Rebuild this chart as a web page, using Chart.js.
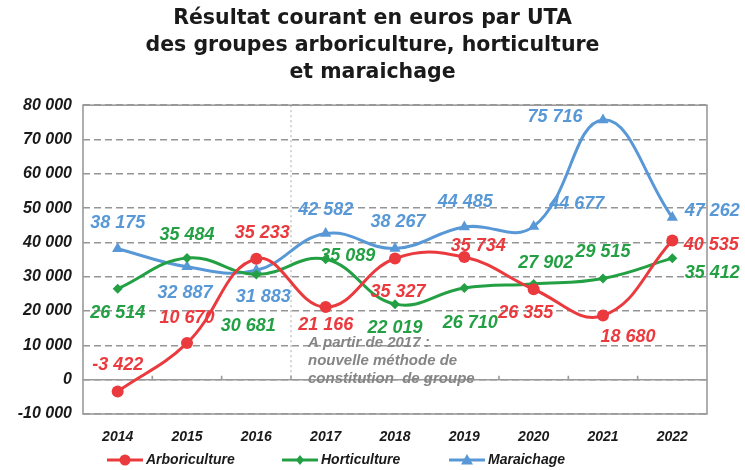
<!DOCTYPE html>
<html>
<head>
<meta charset="utf-8">
<script src="https://cdn.jsdelivr.net/npm/chart.js@4.4.1/dist/chart.umd.min.js"></script>
<style>
  html, body { margin: 0; padding: 0; background: #fff; }
  #wrap { width: 745px; height: 470px; }
</style>
</head>
<body>
<div id="wrap"><canvas id="chart"></canvas></div>
<script>
// categories
const years = ['2014', '2015', '2016', '2017', '2018', '2019', '2020', '2021', '2022'];

// series values (euros par UTA)
const arboriculture = [-3422, 10670, 35233, 21166, 35327, 35734, 26355, 18680, 40535];
const horticulture  = [26514, 35484, 30681, 35089, 22019, 26710, 27902, 29515, 35412];
const maraichage    = [38175, 32887, 31883, 42582, 38267, 44485, 44677, 75716, 47262];

// y axis range
const yMin = -10000;
const yMax = 80000;
const yStep = 10000;

const titleLines = [
    'Résultat courant en euros par UTA',
    'des groupes arboriculture, horticulture',
    'et maraichage'
];
const noteLines = ['A partir de 2017 :', 'nouvelle méthode de', 'constitution  de groupe'];

// where each value label sits relative to its point (dx, dy in px)
const labelOffsets = [
    [[0, -26], [0, -25], [6, -26], [0, 18], [3, 34], [14, -11], [-8, 24], [25, 21], [39, 4]],
    [[0, 24], [0, -23], [-8, 52], [22, -3], [0, 24], [6, 35], [12, -21], [0, -26], [40, 15]],
    [[0, -26], [-2, 26], [7, 27], [0, -24], [3, -26], [1, -25], [43, -22], [-48, -3], [40, -6]]
];

const RED = 'rgb(234, 58, 62)';
const GREEN = 'rgb(36, 160, 68)';
const BLUE = 'rgb(88, 152, 214)';
const FONT = '"Liberation Sans", Arial, sans-serif';
const WIDE = '"DejaVu Sans", "Liberation Sans", sans-serif';

function fmt(n) {
    const s = Math.abs(n).toString().replace(/\B(?=(\d{3})+(?!\d))/g, ' ');
    return (n < 0 ? '-' : '') + s;
}

function drawMarker(ctx, style, x, y, color) {
    ctx.fillStyle = color;
    ctx.beginPath();
    if (style === 'circle') {
        ctx.arc(x, y, 5.5, 0, Math.PI * 2);
    } else if (style === 'rectRot') {
        ctx.moveTo(x, y - 5); ctx.lineTo(x + 4, y); ctx.lineTo(x, y + 5); ctx.lineTo(x - 4, y);
    } else {
        ctx.moveTo(x, y - 6); ctx.lineTo(x + 6, y + 4.5); ctx.lineTo(x - 6, y + 4.5);
    }
    ctx.closePath();
    ctx.fill();
}

const overlay = {
    id: 'overlay',
    beforeDatasetsDraw(chart) {
        const { ctx, chartArea: a, scales: { x, y } } = chart;
        ctx.save();
        // zero line with small category ticks
        const y0 = y.getPixelForValue(0);
        ctx.strokeStyle = '#9a9a9a';
        ctx.lineWidth = 1.6;
        ctx.beginPath();
        ctx.moveTo(a.left, y0); ctx.lineTo(a.right, y0);
        for (let i = 0; i < years.length - 1; i++) {
            const px = x.getPixelForValue(i + 0.5);
            ctx.moveTo(px, y0); ctx.lineTo(px, y0 - 4);
        }
        ctx.stroke();

        // dotted separator between 2016 and 2017
        const sx = x.getPixelForValue(2.5);
        ctx.strokeStyle = '#aaa';
        ctx.lineWidth = 1;
        ctx.setLineDash([2, 3]);
        ctx.beginPath();
        ctx.moveTo(sx, a.top); ctx.lineTo(sx, y0);
        ctx.stroke();
        ctx.setLineDash([]);

        // note text
        ctx.fillStyle = '#858585';
        ctx.font = 'italic bold 15px ' + FONT;
        ctx.textAlign = 'left';
        ctx.textBaseline = 'middle';
        noteLines.forEach((t, i) => ctx.fillText(t, sx + 17, y0 - 37 + i * 18));

        // frame
        ctx.strokeStyle = '#9a9a9a';
        ctx.lineWidth = 1.6;
        ctx.strokeRect(a.left, a.top, a.right - a.left, a.bottom - a.top);
        ctx.restore();
    },
    afterDatasetsDraw(chart) {
        const { ctx } = chart;
        ctx.save();
        ctx.font = 'italic bold 18px ' + FONT;
        ctx.textAlign = 'center';
        ctx.textBaseline = 'middle';
        chart.data.datasets.forEach((ds, di) => {
            const meta = chart.getDatasetMeta(di);
            ctx.fillStyle = ds.borderColor;
            meta.data.forEach((pt, i) => {
                const [dx, dy] = labelOffsets[di][i];
                ctx.fillText(fmt(ds.data[i]), pt.x + dx, pt.y + dy);
            });
        });
        ctx.restore();
    },
    afterDraw(chart) {
        // legend: line with marker, then italic bold label
        const { ctx } = chart;
        ctx.save();
        ctx.font = 'italic bold 14px ' + FONT;
        ctx.textBaseline = 'middle';
        ctx.textAlign = 'left';
        const ly = 460;
        const starts = [107, 282, 449];
        chart.data.datasets.forEach((ds, di) => {
            const lx = starts[di];
            ctx.strokeStyle = ds.borderColor;
            ctx.lineWidth = 3;
            ctx.beginPath();
            ctx.moveTo(lx, ly); ctx.lineTo(lx + 36, ly);
            ctx.stroke();
            drawMarker(ctx, ds.pointStyle, lx + 18, ly, ds.borderColor);
            ctx.fillStyle = '#1a1a1a';
            ctx.fillText(ds.label, lx + 39, ly);
        });
        ctx.restore();
    }
};

function series(label, data, color, pointStyle, radius) {
    return {
        label: label,
        data: data,
        borderColor: color,
        backgroundColor: color,
        borderWidth: 3,
        pointStyle: pointStyle,
        pointRadius: radius,
        pointHoverRadius: radius,
        pointBorderWidth: 0,
        tension: 0.42
    };
}

new Chart(document.getElementById('chart').getContext('2d'), {
    type: 'line',
    data: {
        labels: years,
        datasets: [
            series('Arboriculture', arboriculture, RED, 'circle', 6),
            series('Horticulture', horticulture, GREEN, 'rectRot', 5),
            series('Maraichage', maraichage, BLUE, 'triangle', 6.5)
        ]
    },
    options: {
        responsive: true,
        maintainAspectRatio: false,
        animation: false,
        layout: { padding: { top: 5, right: 0, bottom: 25, left: 0 } },
        plugins: {
            legend: { display: false },
            tooltip: { enabled: false },
            title: {
                display: true,
                text: titleLines,
                color: '#1a1a1a',
                font: { family: WIDE, size: 20.5, weight: 'bold', lineHeight: 1.32 },
                padding: { top: 0, bottom: 19 }
            }
        },
        scales: {
            x: {
                offset: true,
                grid: { display: false, drawTicks: false },
                border: { display: false },
                ticks: {
                    color: '#1a1a1a',
                    padding: 15,
                    font: { family: FONT, size: 14, weight: 'bold', style: 'italic' }
                },
                afterFit(scale) { scale.height = 31; }
            },
            y: {
                min: yMin,
                max: yMax,
                grid: { color: '#959595', lineWidth: 1.5, drawTicks: false },
                border: { display: false, dash: [7, 4] },
                ticks: {
                    stepSize: yStep,
                    color: '#1a1a1a',
                    padding: 11,
                    font: { family: FONT, size: 16, weight: 'bold', style: 'italic' },
                    callback: v => fmt(v)
                },
                afterFit(scale) { scale.width = 83; }
            },
            // empty right margin so the title stays centred on the page
            pad: {
                position: 'right',
                grid: { display: false, drawTicks: false },
                border: { display: false },
                ticks: { display: false },
                afterFit(scale) { scale.width = 38; }
            }
        }
    },
    plugins: [overlay]
});
</script>
</body>
</html>
